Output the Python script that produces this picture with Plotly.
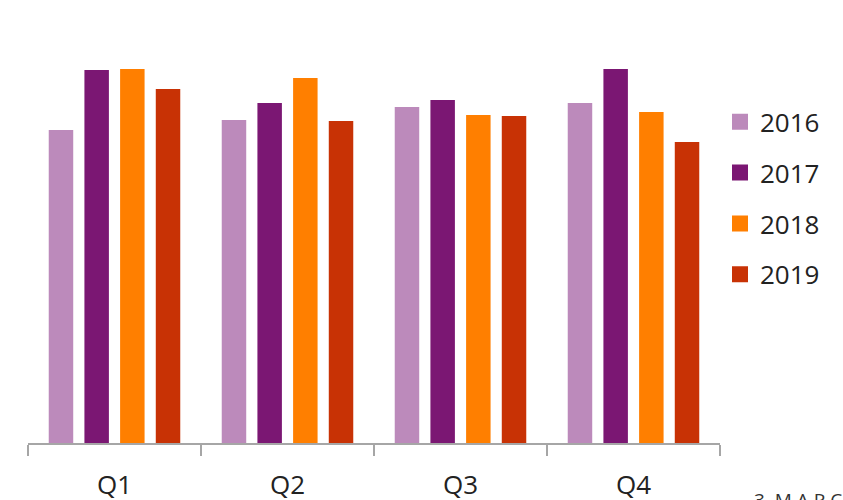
import plotly.graph_objects as go

quarters = ["Q1", "Q2", "Q3", "Q4"]
years = ["2016", "2017", "2018", "2019"]
v2016 = [313, 323, 336, 340]
v2017 = [373, 340, 343, 374]
v2018 = [374, 365, 328, 331]
v2019 = [354, 322, 327, 301]
series = [v2016, v2017, v2018, v2019]
colors = ["#BC8ABB", "#7B1773", "#FF7F00", "#C83205"]
footer = "3  M A R C H"

fig = go.Figure()
for yr, vals, c in zip(years, series, colors):
    fig.add_trace(go.Bar(x=quarters, y=vals, name=yr, marker_color=c,
                         marker_line_width=0, showlegend=False))
    fig.add_trace(go.Scatter(x=[None], y=[None], mode="markers", name=yr,
                             marker=dict(symbol="square", size=18, color=c),
                             legendgroup=yr, showlegend=True))

fig.update_layout(
    width=843, height=500,
    margin=dict(l=28, r=123, t=43, b=57, autoexpand=False),
    paper_bgcolor="white", plot_bgcolor="white",
    barmode="group", bargap=0.175, bargroupgap=0.314,
    font=dict(family="Open Sans, sans-serif", color="#222222"),
    legend=dict(x=1.0, xanchor="left", y=0.8615, yanchor="top",
                font=dict(size=26, color="#222222"),
                traceorder="grouped", tracegroupgap=14,
                itemwidth=30, bgcolor="rgba(0,0,0,0)"),
    xaxis=dict(showline=True, linecolor="#A6A6A6", linewidth=1.5,
               ticks="outside", tickson="boundaries", ticklen=11,
               tickcolor="#A6A6A6", tickwidth=1.5, automargin=False,
               tickfont=dict(size=26, color="#222222"),
               ticklabelstandoff=18, showgrid=False, zeroline=False),
    yaxis=dict(range=[0, 400], visible=False, showgrid=False, zeroline=False,
               automargin=False),
    annotations=[dict(text=footer, xref="paper", yref="paper",
                      x=(752 - 28) / 692, y=-(485 - 443) / 400,
                      xanchor="left", yanchor="top", showarrow=False,
                      font=dict(size=19, color="#333333"))],
)

fig.write_html("out.html")
